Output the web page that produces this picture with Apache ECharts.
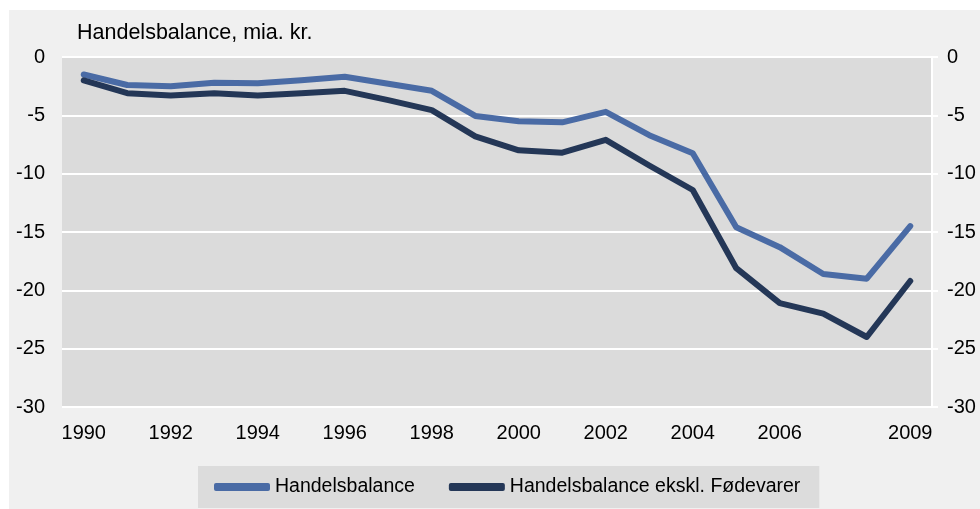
<!DOCTYPE html>
<html>
<head>
<meta charset="utf-8">
<script src="https://cdn.jsdelivr.net/npm/echarts@6/dist/echarts.min.js"></script>
<style>
html,body{margin:0;padding:0;background:#fff;}
#chart{width:980px;height:509px;}
</style>
</head>
<body>
<div id="chart"></div>
<script>
var years = ['1990','1991','1992','1993','1994','1995','1996','1997','1998','1999',
             '2000','2001','2002','2003','2004','2005','2006','2007','2008','2009'];
var handelsbalance = [-1.5,-2.4,-2.5,-2.2,-2.25,-2.0,-1.7,-2.3,-2.9,-5.05,
                      -5.5,-5.6,-4.7,-6.7,-8.25,-14.6,-16.3,-18.6,-19.0,-14.5];
var ekslFoedevarer = [-2.0,-3.1,-3.3,-3.1,-3.3,-3.1,-2.9,-3.7,-4.55,-6.8,
                      -8.0,-8.2,-7.1,-9.3,-11.4,-18.1,-21.1,-22.0,-24.0,-19.2];
var seriesNames = ['Handelsbalance','Handelsbalance ekskl. Fødevarer'];

var font = '"Liberation Sans", Arial, sans-serif';
var chart = echarts.init(document.getElementById('chart'));

var yAxisBase = {
    type:'value',
    min:-30,
    max:0,
    interval:5,
    axisLabel:{color:'#000',fontSize:20,fontFamily:font},
    splitLine:{show:true,lineStyle:{color:'#fff',width:2}},
    axisTick:{show:false},
    axisLine:{show:false}
};

var option = {
    backgroundColor:'#fff',
    animation:false,
    graphic:[{
        type:'rect',
        left:9, top:10,
        shape:{width:971,height:499},
        style:{fill:'#f0f0f0'},
        z:-10
    }],
    title:{
        text:'Handelsbalance, mia. kr.',
        left:72, top:17,
        textStyle:{color:'#000',fontSize:21.5,fontWeight:'normal',fontFamily:font}
    },
    grid:{
        left:62, top:57, width:870, height:350,
        show:true, backgroundColor:'#dbdbdb', borderWidth:0
    },
    legend:{
        data:seriesNames,
        left:198, top:466,
        backgroundColor:'#dcdcdc',
        padding:[11,19,11,16],
        itemGap:34,
        itemWidth:56, itemHeight:8,
        icon:'roundRect',
        textStyle:{color:'#000',fontSize:19.5,fontFamily:font}
    },
    xAxis:{
        type:'category',
        data:years,
        boundaryGap:true,
        axisLine:{show:false},
        axisTick:{show:false},
        axisLabel:{
            color:'#000', fontSize:20, fontFamily:font, margin:16,
            interval:function(i){ return (i % 2 === 0 && i !== 18) || i === 19; }
        }
    },
    yAxis:[
        Object.assign({}, yAxisBase, {position:'left', axisLabel:Object.assign({}, yAxisBase.axisLabel, {margin:17})}),
        Object.assign({}, yAxisBase, {
            position:'right',
            splitLine:{show:false},
            axisLine:{show:true,lineStyle:{color:'#fff',width:2}},
            axisTick:{show:true,length:6,lineStyle:{color:'#fff',width:2}},
            axisLabel:Object.assign({}, yAxisBase.axisLabel, {margin:15})
        })
    ],
    series:[
        {
            name:seriesNames[0], type:'line', data:handelsbalance,
            symbol:'none', color:'#4a6ba5',
            lineStyle:{width:6,color:'#4a6ba5',cap:'round',join:'round'}
        },
        {
            name:seriesNames[1], type:'line', data:ekslFoedevarer,
            symbol:'none', color:'#243757',
            lineStyle:{width:6,color:'#243757',cap:'round',join:'round'}
        }
    ]
};
chart.setOption(option);
</script>
</body>
</html>
